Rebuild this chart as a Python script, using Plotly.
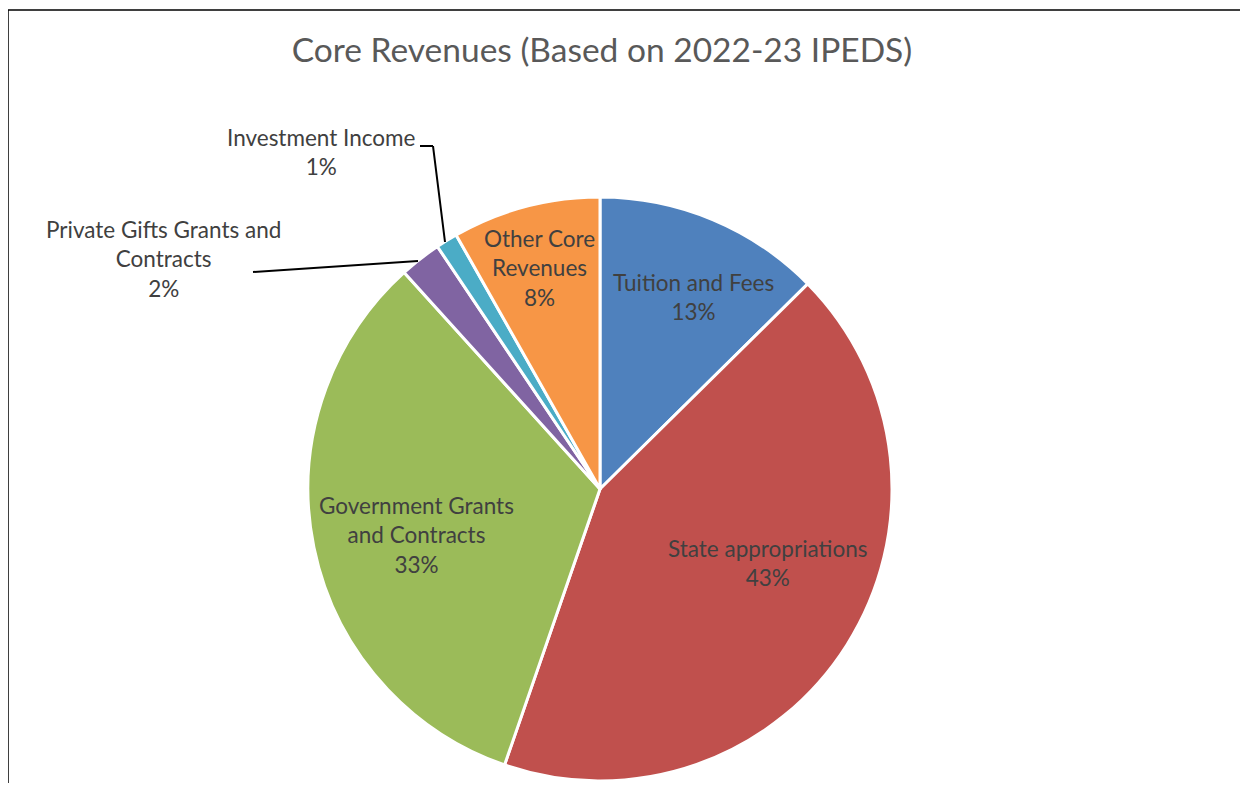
import plotly.graph_objects as go

W, H = 1232, 775   # page has 8px body margin; reference pixel (x, y) -> figure (x-8, y-8)
OFF = 8

categories = ["Tuition and Fees", "State appropriations", "Government Grants and Contracts",
              "Private Gifts Grants and Contracts", "Investment Income", "Other Core Revenues"]
display_labels = ["Tuition and Fees", "State appropriations", "Government Grants<br>and Contracts",
                  "Private Gifts Grants and<br>Contracts", "Investment Income", "Other Core<br>Revenues"]
values = [12.6, 42.7, 33.0, 2.3, 1.2, 8.2]
colors = ["#4F81BD", "#C0504D", "#9BBB59", "#8064A2", "#4BACC6", "#F79646"]
# label block centres in reference pixels (x, y)
label_pos = [(693, 297), (768, 563), (416, 535), (164, 259), (321, 152), (539, 268)]

FONT = "Lato"
TXT = "#404040"

def px(x, y):
    return (x - OFF) / W, 1 - (y - OFF) / H

cx, cy, r = 600, 489, 292
dx0, dy1 = px(cx - r, cy - r)
dx1, dy0 = px(cx + r, cy + r)
fig = go.Figure(go.Pie(
    labels=categories, values=values, sort=False, direction="clockwise", rotation=0,
    marker=dict(colors=colors, line=dict(color="white", width=3)),
    textinfo="none", hoverinfo="label+percent", showlegend=False,
    domain=dict(x=[dx0, dx1], y=[dy0, dy1]),
))

annotations = []
for lab, v, (x, y) in zip(display_labels, values, label_pos):
    xp, yp = px(x, y)
    annotations.append(dict(
        x=xp, y=yp, xref="paper", yref="paper", showarrow=False,
        text=f"{lab}<br>{round(v)}%", align="center", xanchor="center", yanchor="middle",
        font=dict(family=FONT, size=22.5, color=TXT)))

shapes = []
def seg(x0, y0, x1, y1):
    a = px(x0, y0); b = px(x1, y1)
    shapes.append(dict(type="line", xref="paper", yref="paper", x0=a[0], y0=a[1], x1=b[0], y1=b[1],
                       line=dict(color="black", width=2)))
seg(420, 146, 433, 146)
seg(433, 146, 445, 242)
seg(253, 272, 418, 261)
# chart border
bx0, by0 = px(8, 10)
shapes.append(dict(type="rect", xref="paper", yref="paper", x0=bx0, y0=-0.05, x1=1.05, y1=by0,
                   line=dict(color="black", width=1.5), fillcolor="rgba(0,0,0,0)", layer="below"))

tx, ty = px(602, 50)
fig.update_layout(
    width=W, height=H, margin=dict(l=0, r=0, t=0, b=0),
    paper_bgcolor="white", plot_bgcolor="white",
    title=dict(text="Core Revenues (Based on 2022-23 IPEDS)", x=tx, xanchor="center",
               y=ty, yanchor="middle",
               font=dict(family=FONT, size=33.5, color="#595959")),
    annotations=annotations, shapes=shapes,
)

fig.write_html("out.html")
